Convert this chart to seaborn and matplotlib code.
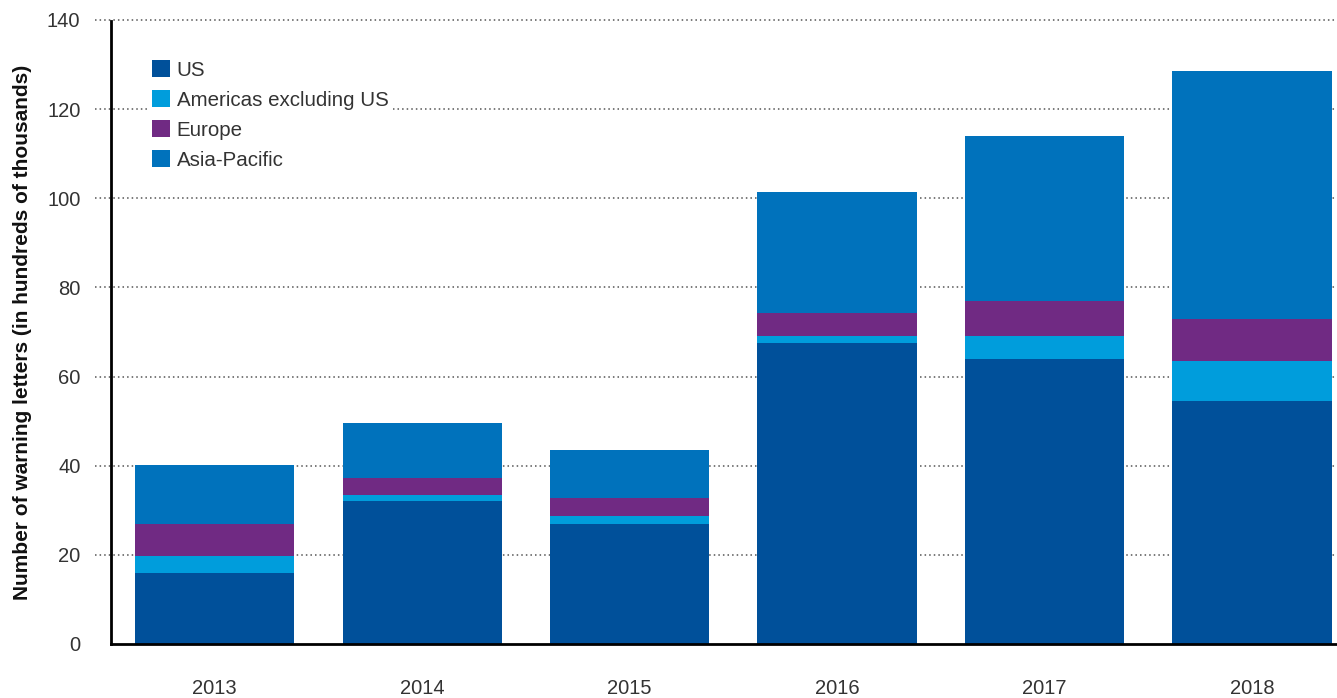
import numpy as np
import pandas as pd
import matplotlib
matplotlib.use("Agg")
import matplotlib.pyplot as plt
from matplotlib.patches import Patch
import seaborn as sns

years = ["2013", "2014", "2015", "2016", "2017", "2018"]
us = [16.0, 32.0, 27.0, 67.5, 64.0, 54.5]
americas_ex_us = [3.8, 1.5, 1.8, 1.5, 5.0, 9.0]
europe = [7.2, 3.8, 4.0, 5.3, 8.0, 9.5]
asia_pacific = [13.2, 12.2, 10.7, 27.1, 37.0, 55.5]

series_names = ["US", "Americas excluding US", "Europe", "Asia-Pacific"]
colors = ["#00509A", "#009DDC", "#702A83", "#0072BC"]
y_ticks = [0, 20, 40, 60, 80, 100, 120, 140]

sns.set_theme(style="white")
plt.rcParams["font.family"] = ["Liberation Sans", "DejaVu Sans"]

fig = plt.figure(figsize=(13.37, 6.98), dpi=100)
ax = fig.add_axes([0.083, 0.0774, 0.917, 0.894])

layers = [us, americas_ex_us, europe, asia_pacific]
cum = np.cumsum(np.array(layers), axis=0)
df = pd.DataFrame({"year": years})
# draw from tallest (total) to shortest so each cumulative level shows
for i in range(len(layers) - 1, -1, -1):
    df["val"] = cum[i]
    sns.barplot(data=df, x="year", y="val", color=colors[i], width=0.767,
                saturation=1, ax=ax, zorder=2, linewidth=0)

ax.set_ylim(0, 140)
ax.set_xlim(-0.5, 5.41)
ax.set_yticks(y_ticks)
ax.set_yticklabels([str(t) for t in y_ticks])
ax.tick_params(axis="y", length=0, pad=22, labelsize=14.5, labelcolor="#333333")
ax.tick_params(axis="x", length=0, pad=25, labelsize=14.5, labelcolor="#333333")
ax.set_xlabel("")
ax.set_ylabel("Number of warning letters (in hundreds of thousands)",
              fontsize=15, fontweight="bold", color="#111111", labelpad=11)

# dotted gridlines extending slightly left of the axis
ax.hlines(y_ticks[1:], xmin=-0.013, xmax=1.0, transform=ax.get_yaxis_transform(),
          colors="#555555", linestyles=(0, (1, 2)), linewidth=1.1, clip_on=False, zorder=1)

for s in ["top", "right"]:
    ax.spines[s].set_visible(False)
for s in ["left", "bottom"]:
    ax.spines[s].set_visible(True)
    ax.spines[s].set_color("black")
    ax.spines[s].set_linewidth(2)
    ax.spines[s].set_zorder(3)
ax.spines["left"].set_bounds(0, 139.7)

handles = [Patch(facecolor=c, edgecolor="none") for c in colors]
leg = ax.legend(handles, series_names, loc="upper left", bbox_to_anchor=(0.030, 0.942),
                frameon=True, fontsize=14.8, handlelength=0.9, handleheight=0.9,
                handletextpad=0.3, labelspacing=0.5, borderpad=0.2, borderaxespad=0)
leg.get_frame().set_facecolor("white")
leg.get_frame().set_edgecolor("none")
leg.get_frame().set_alpha(1)
leg.set_zorder(5)
for t in leg.get_texts():
    t.set_color("#333333")

fig.savefig("out.png", dpi=100, facecolor="white")
